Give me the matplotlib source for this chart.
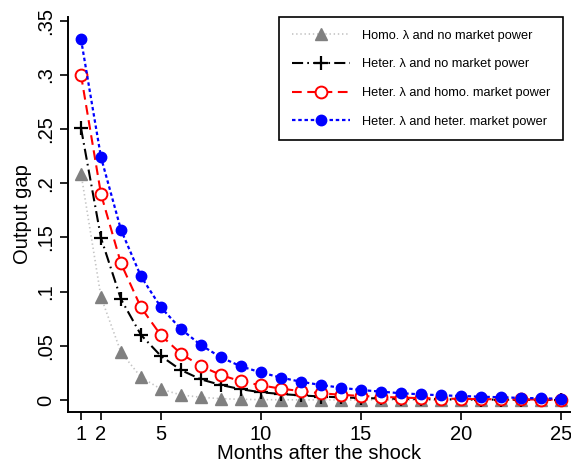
import matplotlib
matplotlib.use("Agg")
import matplotlib.pyplot as plt

plt.rcParams['font.family'] = ['Liberation Sans', 'DejaVu Sans']
plt.rcParams['lines.scale_dashes'] = False

months = list(range(1, 26))

homo_no_mp = [0.209, 0.095, 0.044, 0.021, 0.010, 0.0046, 0.0025, 0.0012, 0.0006, 0.0003,
              0.0002, 0.0001, 0.0001, 0.0, 0.0, 0.0, 0.0, 0.0, 0.0, 0.0,
              0.0, 0.0, 0.0, 0.0, 0.0]
heter_no_mp = [0.251, 0.1495, 0.093, 0.060, 0.0405, 0.0276, 0.019, 0.0138, 0.0099, 0.0071,
               0.0055, 0.0042, 0.0032, 0.0024, 0.0018, 0.0014, 0.0011, 0.0008, 0.0006, 0.0005,
               0.0004, 0.0003, 0.0002, 0.0002, 0.0001]
heter_homo_mp = [0.300, 0.190, 0.126, 0.0854, 0.0596, 0.0427, 0.0313, 0.023, 0.0172, 0.0135,
                 0.0104, 0.0082, 0.0062, 0.0048, 0.0037, 0.0029, 0.0022, 0.0017, 0.0013, 0.0010,
                 0.0008, 0.0006, 0.0005, 0.0004, 0.0003]
heter_heter_mp = [0.333, 0.224, 0.157, 0.114, 0.0854, 0.0654, 0.0506, 0.0393, 0.031, 0.0254,
                  0.0206, 0.0168, 0.0138, 0.0113, 0.0092, 0.0077, 0.0062, 0.0052, 0.0043, 0.0037,
                  0.0030, 0.0025, 0.0019, 0.0015, 0.0012]

labels = ["Homo. \u03bb and no market power",
          "Heter. \u03bb and no market power",
          "Heter. \u03bb and homo. market power",
          "Heter. \u03bb and heter. market power"]

xticks = [1, 2, 5, 10, 15, 20, 25]
yticks = [0, 0.05, 0.1, 0.15, 0.2, 0.25, 0.3, 0.35]
yticklabels = ["0", ".05", ".1", ".15", ".2", ".25", ".3", ".35"]

fig = plt.figure(figsize=(5.71, 4.65), dpi=100)
ax = fig.add_axes([68/571, 53/465, (571-68)/571, (412-17)/465])

ax.plot(months, homo_no_mp, linestyle=(0, (1, 2)), color='#c4c4c4', lw=1.2,
        marker='^', ms=8, mfc='#808080', mec='#808080', label=labels[0])
ax.plot(months, heter_no_mp, linestyle=(0, (8, 3, 1.2, 3)), color='black', lw=1.5,
        marker='+', ms=10, mew=1.6, mec='black', label=labels[1])
ax.plot(months, heter_homo_mp, linestyle=(0, (7, 4)), color='#ff0000', lw=1.5,
        marker='o', ms=8.5, mfc='white', mec='#ff0000', mew=1.4, label=labels[2])
ax.plot(months, heter_heter_mp, linestyle=(0, (2.5, 2)), color='#0000ff', lw=1.6,
        marker='o', ms=7.5, mfc='#0000ff', mec='#0000ff', label=labels[3])

ax.set_xlim(0.35, 25.5)
ax.set_ylim(-0.0111, 0.3535)
ax.set_xticks(xticks)
ax.set_xticklabels([str(x) for x in xticks], fontsize=14.5)
ax.set_yticks(yticks)
ax.set_yticklabels(yticklabels, fontsize=14.5, rotation=90, va='center')
ax.tick_params(direction='out', length=6, width=1.2, pad=3)
for s in ['top', 'right']:
    ax.spines[s].set_visible(False)
for s in ['left', 'bottom']:
    ax.spines[s].set_linewidth(1.4)

ax.set_xlabel("Months after the shock", fontsize=14.5, labelpad=0)
ax.set_ylabel("Output gap", fontsize=14.5, labelpad=3)

leg = fig.legend(loc='upper right', bbox_to_anchor=(563/571, 1 - 17/465),
                 fontsize=9.2, handlelength=4.6, handletextpad=0.9,
                 labelspacing=1.3, borderpad=1.0, fancybox=False,
                 edgecolor='black', framealpha=1, borderaxespad=0)
leg.get_frame().set_linewidth(1.2)

fig.savefig("out.png", dpi=100)
